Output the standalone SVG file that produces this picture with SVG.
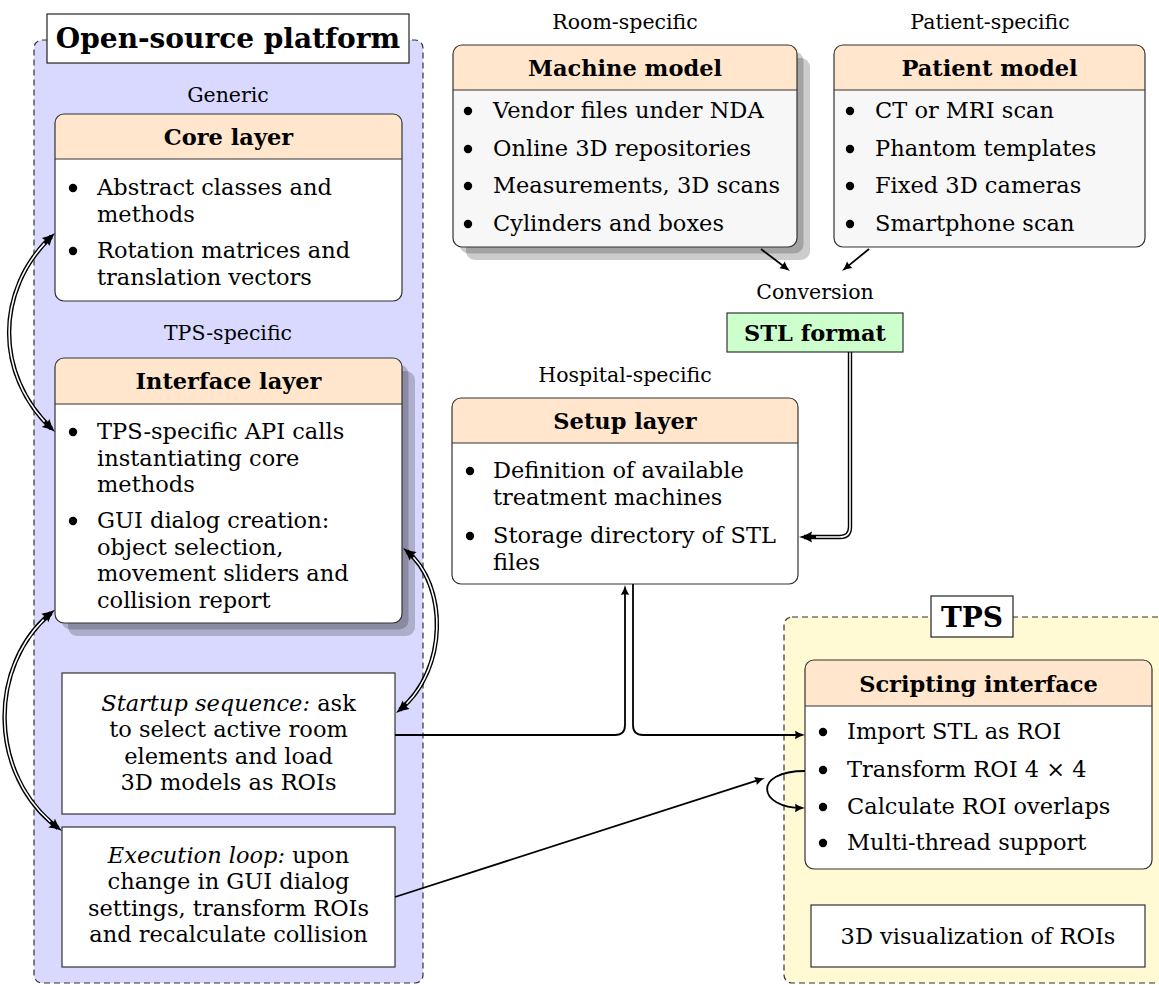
<svg xmlns="http://www.w3.org/2000/svg" width="1159" height="985" viewBox="0 0 1159 985">
<defs>
<style>
text{font-family:"DejaVu Serif","Liberation Serif",serif;fill:#000}
.b{font-size:22.5px}
.c{font-size:22.5px;text-anchor:middle}
.lbl{font-size:20.5px;text-anchor:middle}
.hd{font-size:22.5px;font-weight:bold;text-anchor:middle}
.ttl{font-size:28px;font-weight:bold;text-anchor:middle}
.box{stroke:#333;stroke-width:1.2}
.hdr{fill:#ffe6cc}
.sh{fill:#000;opacity:0.2}
.con{fill:none;stroke:#000;stroke-width:1.8}
.dbo{fill:none;stroke:#000;stroke-width:4.4}
.dbi{fill:none;stroke:#fff;stroke-width:1.6}
.cont{stroke:#333;stroke-width:1.2;stroke-dasharray:6 4}
</style>
<marker id="dE" viewBox="-10 -7 16 14" refX="0" refY="0" markerWidth="16" markerHeight="14" markerUnits="userSpaceOnUse" orient="auto"><path d="M-8,-5.5 Q-2,-1.5 5,0 Q-2,1.5 -8,5.5 Q-6,0 -8,-5.5 Z" fill="#000"/></marker>
<marker id="dS" viewBox="-6 -7 16 14" refX="0" refY="0" markerWidth="16" markerHeight="14" markerUnits="userSpaceOnUse" orient="auto"><path d="M8,-5.5 Q2,-1.5 -5,0 Q2,1.5 8,5.5 Q6,0 8,-5.5 Z" fill="#000"/></marker>
<marker id="sE" viewBox="-9 -5 13 10" refX="0" refY="0" markerWidth="13" markerHeight="10" markerUnits="userSpaceOnUse" orient="auto"><path d="M-7,-4.2 Q-2,-1 3,0 Q-2,1 -7,4.2 Q-5.5,0 -7,-4.2 Z" fill="#000"/></marker>
</defs>
<rect x="0" y="0" width="1159" height="985" fill="#fff"/>

<g id="open-source-platform">
<rect class="cont" x="34" y="40" width="389" height="943" rx="8" fill="#d9d9ff"/>
<rect x="47" y="14" width="362" height="49" fill="#fff" stroke="#222" stroke-width="1.2"/>
<text class="ttl" x="228" y="48">Open-source platform</text>
<text class="lbl" x="228" y="102">Generic</text>
<text class="lbl" x="228" y="340">TPS-specific</text>
</g>

<g id="tps">
<rect class="cont" x="784" y="617" width="400" height="366" rx="8" fill="#fffad4"/>
<rect x="931" y="596" width="82" height="41" fill="#fff" stroke="#222" stroke-width="1.2"/>
<text class="ttl" x="972" y="627">TPS</text>
</g>

<g id="core-layer">
<rect x="55" y="114" width="347" height="187" rx="9" fill="#fff"/>
<path class="hdr" d="M55,123 A9,9 0 0 1 64,114 H393 A9,9 0 0 1 402,123 V159 H55 Z"/>
<rect x="55" y="114" width="347" height="187" rx="9" fill="none" stroke="#333" stroke-width="1.2"/>
<line x1="55" y1="159" x2="402" y2="159" stroke="#333" stroke-width="1.2"/>
<text class="hd" x="228.5" y="145">Core layer</text>
<circle cx="73" cy="188" r="4.2"/>
<text class="b" x="97" y="195">Abstract classes and</text>
<text class="b" x="97" y="222">methods</text>
<circle cx="73" cy="251" r="4.2"/>
<text class="b" x="97" y="258">Rotation matrices and</text>
<text class="b" x="97" y="285">translation vectors</text>
</g>

<g id="interface-layer">
<rect class="sh" x="68" y="371" width="347" height="265" rx="9"/>
<rect class="sh" x="61.5" y="364.5" width="347" height="265" rx="9"/>
<rect x="55" y="358" width="347" height="265" rx="9" fill="#fff"/>
<path class="hdr" d="M55,367 A9,9 0 0 1 64,358 H393 A9,9 0 0 1 402,367 V404 H55 Z"/>
<rect x="55" y="358" width="347" height="265" rx="9" fill="none" stroke="#333" stroke-width="1.2"/>
<line x1="55" y1="404" x2="402" y2="404" stroke="#333" stroke-width="1.2"/>
<text class="hd" x="228.5" y="389">Interface layer</text>
<circle cx="73" cy="432" r="4.2"/>
<text class="b" x="97" y="439">TPS-specific API calls</text>
<text class="b" x="97" y="465.5">instantiating core</text>
<text class="b" x="97" y="492">methods</text>
<circle cx="73" cy="521" r="4.2"/>
<text class="b" x="97" y="528">GUI dialog creation:</text>
<text class="b" x="97" y="554.5">object selection,</text>
<text class="b" x="97" y="581">movement sliders and</text>
<text class="b" x="97" y="607.5">collision report</text>
</g>

<g id="startup-sequence">
<rect class="box" x="62" y="673" width="333" height="141" fill="#fff"/>
<text class="c" x="228.5" y="710.5"><tspan font-style="italic">Startup sequence:</tspan> ask</text>
<text class="c" x="228.5" y="737">to select active room</text>
<text class="c" x="228.5" y="763.5">elements and load</text>
<text class="c" x="228.5" y="790">3D models as ROIs</text>
</g>

<g id="execution-loop">
<rect class="box" x="62" y="827" width="333" height="140" fill="#fff"/>
<text class="c" x="228.5" y="862.5"><tspan font-style="italic">Execution loop:</tspan> upon</text>
<text class="c" x="228.5" y="889">change in GUI dialog</text>
<text class="c" x="228.5" y="915.5">settings, transform ROIs</text>
<text class="c" x="228.5" y="942">and recalculate collision</text>
</g>

<g id="machine-model">
<text class="lbl" x="625" y="29">Room-specific</text>
<rect class="sh" x="466" y="58" width="344" height="202" rx="9"/>
<rect class="sh" x="459.5" y="51.5" width="344" height="202" rx="9"/>
<rect x="453" y="45" width="344" height="202" rx="9" fill="#f7f7f7"/>
<path class="hdr" d="M453,54 A9,9 0 0 1 462,45 H788 A9,9 0 0 1 797,54 V90 H453 Z"/>
<rect x="453" y="45" width="344" height="202" rx="9" fill="none" stroke="#333" stroke-width="1.2"/>
<line x1="453" y1="90" x2="797" y2="90" stroke="#333" stroke-width="1.2"/>
<text class="hd" x="625" y="76">Machine model</text>
<circle cx="468" cy="111" r="4.2"/>
<text class="b" x="493" y="118">Vendor files under NDA</text>
<circle cx="468" cy="149" r="4.2"/>
<text class="b" x="493" y="156">Online 3D repositories</text>
<circle cx="468" cy="186" r="4.2"/>
<text class="b" x="493" y="193">Measurements, 3D scans</text>
<circle cx="468" cy="224" r="4.2"/>
<text class="b" x="493" y="231">Cylinders and boxes</text>
</g>

<g id="patient-model">
<text class="lbl" x="990" y="29">Patient-specific</text>
<rect x="834" y="45" width="311" height="202" rx="9" fill="#f7f7f7"/>
<path class="hdr" d="M834,54 A9,9 0 0 1 843,45 H1136 A9,9 0 0 1 1145,54 V90 H834 Z"/>
<rect x="834" y="45" width="311" height="202" rx="9" fill="none" stroke="#333" stroke-width="1.2"/>
<line x1="834" y1="90" x2="1145" y2="90" stroke="#333" stroke-width="1.2"/>
<text class="hd" x="989.5" y="76">Patient model</text>
<circle cx="850" cy="111" r="4.2"/>
<text class="b" x="875" y="118">CT or MRI scan</text>
<circle cx="850" cy="149" r="4.2"/>
<text class="b" x="875" y="156">Phantom templates</text>
<circle cx="850" cy="186" r="4.2"/>
<text class="b" x="875" y="193">Fixed 3D cameras</text>
<circle cx="850" cy="224" r="4.2"/>
<text class="b" x="875" y="231">Smartphone scan</text>
</g>

<g id="stl-format">
<text class="lbl" x="815" y="299">Conversion</text>
<rect x="727" y="313" width="176" height="39" fill="#ccffcc" stroke="#333" stroke-width="1.2"/>
<text class="hd" x="815" y="341">STL format</text>
</g>

<g id="setup-layer">
<text class="lbl" x="625" y="382">Hospital-specific</text>
<rect x="452" y="398" width="346" height="186" rx="9" fill="#fff"/>
<path class="hdr" d="M452,407 A9,9 0 0 1 461,398 H789 A9,9 0 0 1 798,407 V443 H452 Z"/>
<rect x="452" y="398" width="346" height="186" rx="9" fill="none" stroke="#333" stroke-width="1.2"/>
<line x1="452" y1="443" x2="798" y2="443" stroke="#333" stroke-width="1.2"/>
<text class="hd" x="625" y="429">Setup layer</text>
<circle cx="470" cy="471" r="4.2"/>
<text class="b" x="493" y="478">Definition of available</text>
<text class="b" x="493" y="504.5">treatment machines</text>
<circle cx="470" cy="536" r="4.2"/>
<text class="b" x="493" y="543">Storage directory of STL</text>
<text class="b" x="493" y="569.5">files</text>
</g>

<g id="scripting-interface">
<rect x="805" y="660" width="347" height="209" rx="9" fill="#fff"/>
<path class="hdr" d="M805,669 A9,9 0 0 1 814,660 H1143 A9,9 0 0 1 1152,669 V706 H805 Z"/>
<rect x="805" y="660" width="347" height="209" rx="9" fill="none" stroke="#333" stroke-width="1.2"/>
<line x1="805" y1="706" x2="1152" y2="706" stroke="#333" stroke-width="1.2"/>
<text class="hd" x="978.5" y="692">Scripting interface</text>
<circle cx="823" cy="732" r="4.2"/>
<text class="b" x="847" y="739">Import STL as ROI</text>
<circle cx="823" cy="770" r="4.2"/>
<text class="b" x="847" y="777">Transform ROI 4 × 4</text>
<circle cx="823" cy="807" r="4.2"/>
<text class="b" x="847" y="814">Calculate ROI overlaps</text>
<circle cx="823" cy="843" r="4.2"/>
<text class="b" x="847" y="850">Multi-thread support</text>
</g>

<g id="visualization">
<rect class="box" x="811" y="905" width="334" height="62" fill="#fff"/>
<text class="c" x="978" y="944">3D visualization of ROIs</text>
</g>

<g id="connectors">
<path class="dbo" d="M51.4,236.4 C-5,290 -5,375 51.4,428.6" marker-start="url(#dS)" marker-end="url(#dE)"/>
<path class="dbi" d="M51.4,236.4 C-5,290 -5,375 51.4,428.6" pathLength="100" stroke-dasharray="0 4.5 91 100"/>
<path class="dbo" d="M51,613 C-12,665 -12,775 58,828" marker-start="url(#dS)" marker-end="url(#dE)"/>
<path class="dbi" d="M51,613 C-12,665 -12,775 58,828" pathLength="100" stroke-dasharray="0 4 92 100"/>
<path class="dbo" d="M406.9,551.2 C448,585 448,670 399.9,709.8" marker-start="url(#dS)" marker-end="url(#dE)"/>
<path class="dbi" d="M406.9,551.2 C448,585 448,670 399.9,709.8" pathLength="100" stroke-dasharray="0 5 90 100"/>
<path class="dbo" d="M850,352 V527 Q850,537 840,537 H804" marker-end="url(#dE)"/>
<path class="dbi" d="M850,352.6 V527 Q850,537 840,537 H816"/>
<path class="con" d="M761,249 L787.6,269.2" marker-end="url(#sE)"/>
<path class="con" d="M869,249 L844.3,269.1" marker-end="url(#sE)"/>
<path class="con" d="M395,735 H615 Q625,735 625,725 V588" marker-end="url(#sE)"/>
<path class="con" d="M633,584 V725 Q633,735 643,735 H802" marker-end="url(#sE)"/>
<path class="con" d="M395,897 L762.1,778.9" marker-end="url(#sE)"/>
<path class="con" d="M805,771 C752,771 758,808 802,808" marker-end="url(#sE)"/>
</g>
</svg>
